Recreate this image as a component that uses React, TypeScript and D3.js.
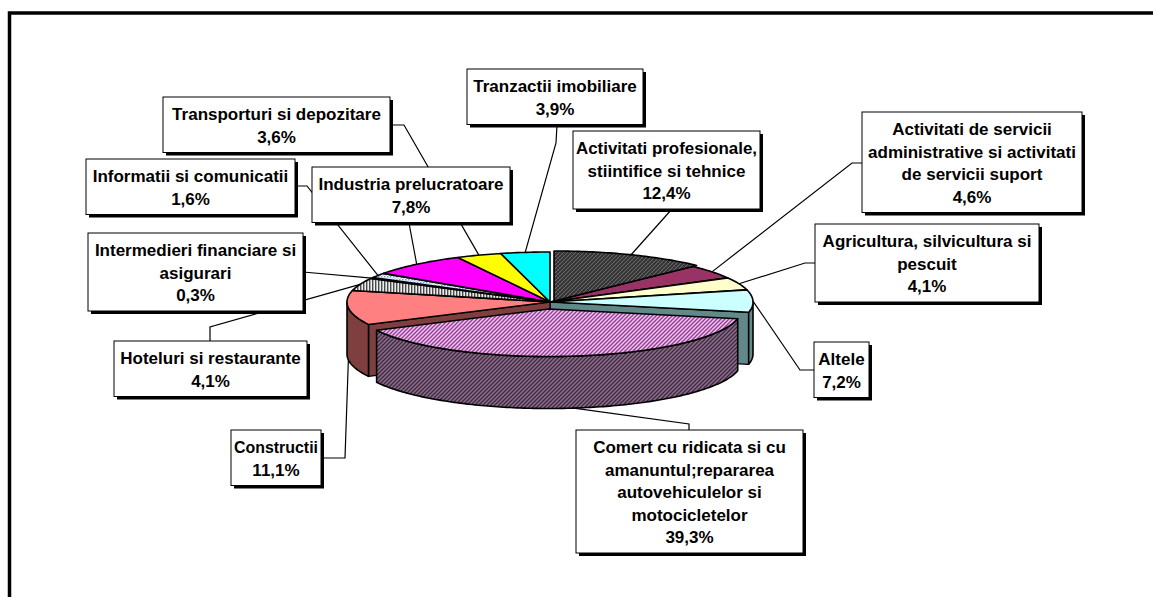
import React from 'react';
import * as d3 from 'd3';

// ---------- data ----------
const categories = [
  'Activitati profesionale, stiintifice si tehnice',
  'Activitati de servicii administrative si activitati de servicii suport',
  'Agricultura, silvicultura si pescuit',
  'Altele',
  'Comert cu ridicata si cu amanuntul;repararea autovehiculelor si motocicletelor',
  'Constructii',
  'Hoteluri si restaurante',
  'Intermedieri financiare si asigurari',
  'Informatii si comunicatii',
  'Industria prelucratoare',
  'Transporturi si depozitare',
  'Tranzactii imobiliare',
];
const values = [12.4, 4.6, 4.1, 7.2, 39.3, 11.1, 4.1, 0.3, 1.6, 7.8, 3.6, 3.9];
const labelLines = [
  ['Activitati profesionale,', 'stiintifice si tehnice'],
  ['Activitati de servicii', 'administrative si activitati', 'de servicii suport'],
  ['Agricultura, silvicultura si', 'pescuit'],
  ['Altele'],
  ['Comert cu ridicata si cu', 'amanuntul;repararea', 'autovehiculelor si', 'motocicletelor'],
  ['Constructii'],
  ['Hoteluri si restaurante'],
  ['Intermedieri financiare si', 'asigurari'],
  ['Informatii si comunicatii'],
  ['Industria prelucratoare'],
  ['Transporturi si depozitare'],
  ['Tranzactii imobiliare'],
];

// ---------- styles / layout ----------
const W = 1153, H = 597;
const CX = 550, CY = 302, RX = 203, RY = 50, DEPTH = 52;

const sliceStyle = [
  { top: 'url(#pDark)', side: '#2a2a2a' },
  { top: '#993366', side: '#4d1a33' },
  { top: '#FFFFCC', side: '#808066' },
  { top: '#CCFFFF', side: '#628989' },
  { top: 'url(#pComTop)', side: 'url(#pComSide)' },
  { top: '#FF8080', side: '#7f3f3f' },
  { top: 'url(#pHot)', side: '#555555' },
  { top: 'url(#pInf2)', side: '#666677' },
  { top: 'url(#pInf)', side: '#666677' },
  { top: '#FF00FF', side: '#800080' },
  { top: '#FFFF00', side: '#808000' },
  { top: '#00FFFF', side: '#008080' },
];
const sliceOffset = [
  { dx: 4, dy: -1, s: 1 },
  { dx: 0, dy: 0, s: 1 },
  { dx: 0, dy: 0, s: 1 },
  { dx: 0, dy: 0, s: 1 },
  { dx: -1, dy: 7, s: 0.95 },
  { dx: 0, dy: 0, s: 1 },
  { dx: 0, dy: 0, s: 1 },
  { dx: 0, dy: 0, s: 1 },
  { dx: 0, dy: 0, s: 1 },
  { dx: 0, dy: 0, s: 1 },
  { dx: 0, dy: 0, s: 1 },
  { dx: 0, dy: 0, s: 1 },
];
const boxLayout: { x: number; y: number; w: number; leader: [number, number][] }[] = [
  { x: 573, y: 131, w: 187, leader: [[672, 209]] },
  { x: 862, y: 112, w: 220, leader: [[862, 163], [852, 163]] },
  { x: 815, y: 224, w: 224, leader: [[815, 263], [805, 263]] },
  { x: 814, y: 342, w: 55, leader: [[814, 370], [800, 370]] },
  { x: 576, y: 430, w: 227, leader: [[689, 430], [689, 424]] },
  { x: 231, y: 430, w: 90, leader: [[321, 458], [345, 458]] },
  { x: 114, y: 341, w: 193, leader: [[210, 341], [210, 327]] },
  { x: 88, y: 233, w: 215, leader: [[303, 272]] },
  { x: 86, y: 159, w: 209, leader: [[295, 186], [307, 186]] },
  { x: 312, y: 167, w: 198, leader: [[409, 223]] },
  { x: 163, y: 97, w: 227, leader: [[390, 125], [404, 125]] },
  { x: 467, y: 69, w: 176, leader: [[557, 125], [556, 143]] },
];
const FONT = 17, LINE_H = 22.5, FIRST_BASE = 23, PAD_BOTTOM = 10, TEXT_PAD = 3;
const FONT_FAMILY = "'Liberation Sans', Arial, sans-serif";

type Off = { dx: number; dy: number; s: number };
function P(a: number, k: number, o: Off, z = 0): [number, number] {
  return [CX + o.dx + RX * o.s * k * Math.sin(a), CY + o.dy - RY * o.s * k * Math.cos(a) + z];
}
function arcPts(a0: number, a1: number, o: Off, z: number): [number, number][] {
  const n = Math.max(2, Math.ceil(Math.abs(a1 - a0) / (Math.PI / 180)));
  return d3.range(n + 1).map((i) => P(a0 + ((a1 - a0) * i) / n, 1, o, z));
}
const lineGen = d3.line();
const fmt = (v: number) => v.toFixed(1).replace('.', ',') + '%';

let measureCtx: CanvasRenderingContext2D | null = null;
function textWidth(t: string): number {
  if (typeof document === 'undefined') return 0;
  if (!measureCtx) measureCtx = document.createElement('canvas').getContext('2d');
  if (!measureCtx) return 0;
  measureCtx.font = `bold ${FONT}px ${FONT_FAMILY}`;
  return measureCtx.measureText(t).width;
}

export default function App() {
  const arcs = d3.pie<number>().sort(null).value((d) => d)(values);
  const exploded = sliceOffset.map((o) => Math.hypot(o.dx, o.dy) > 3);
  const n = values.length;

  const faces: any[] = [];
  const walls: any[] = [];
  const wallsExp: any[] = [];
  const tops: any[] = [];
  const topsExp: any[] = [];
  const anchors: [number, number][] = [];

  arcs.forEach((arc, i) => {
    const o = sliceOffset[i];
    const st = sliceStyle[i];
    const a0 = arc.startAngle, a1 = arc.endAngle;
    const prev = (i - 1 + n) % n, next = (i + 1) % n;
    const face = (a: number, key: string) => (
      <path key={key}
        d={lineGen([P(a, 0, o), P(a, 1, o), P(a, 1, o, DEPTH), P(a, 0, o, DEPTH)])! + 'Z'}
        fill={st.side} stroke="#000" strokeWidth={1.2} strokeLinejoin="round" />
    );
    if (Math.sin(a0) < -0.01 && exploded[prev] && !exploded[i]) faces.push(face(a0, 'fs' + i));
    if (Math.sin(a1) > 0.01 && exploded[next] && !exploded[i]) faces.push(face(a1, 'fe' + i));

    const b0 = Math.max(a0, Math.PI / 2), b1 = Math.min(a1, (3 * Math.PI) / 2);
    if (b1 > b0) {
      const pts = arcPts(b0, b1, o, 0).concat(arcPts(b1, b0, o, DEPTH));
      const el = (
        <path key={'w' + i} d={lineGen(pts)! + 'Z'} fill={st.side} stroke="#000"
          strokeWidth={1.6} strokeLinejoin="round" />
      );
      (exploded[i] ? wallsExp : walls).push(el);
    }
    const topPts = [P(0, 0, o)].concat(arcPts(a0, a1, o, 0));
    const t = (
      <path key={'t' + i} d={lineGen(topPts)! + 'Z'} fill={st.top} stroke="#000"
        strokeWidth={1.6} strokeLinejoin="round" />
    );
    (exploded[i] ? topsExp : tops).push(t);

    const mid = (a0 + a1) / 2;
    anchors.push(Math.cos(mid) < 0 ? P(mid, 1, o, DEPTH) : P(mid, 1, o, 0));
  });

  return (
    <svg width={W} height={H} style={{ position: 'absolute', left: 0, top: 0, background: '#fff' }}
      fontFamily={FONT_FAMILY}>
      <defs>
        <pattern id="pDark" width="4" height="4" patternUnits="userSpaceOnUse">
          <rect width="4" height="4" fill="#333333" />
          <path d="M0,4 L4,0 M-1,1 L1,-1 M3,5 L5,3" stroke="#707070" strokeWidth="0.9" />
          <path d="M0,0 L4,4" stroke="#4a4a4a" strokeWidth="0.7" />
        </pattern>
        <pattern id="pComTop" width="4" height="4" patternUnits="userSpaceOnUse">
          <rect width="4" height="4" fill="#eec4ee" />
          <path d="M0,4 L4,0 M-1,1 L1,-1 M3,5 L5,3" stroke="#923c92" strokeWidth="1.3" />
        </pattern>
        <pattern id="pComSide" width="4" height="4" patternUnits="userSpaceOnUse">
          <rect width="4" height="4" fill="#8c6c8c" />
          <path d="M0,4 L4,0 M-1,1 L1,-1 M3,5 L5,3" stroke="#3d2a3d" strokeWidth="1.3" />
        </pattern>
        <pattern id="pHot" width="3" height="3" patternUnits="userSpaceOnUse">
          <rect width="3" height="3" fill="#ececec" />
          <rect width="1.4" height="3" fill="#4a4a4a" />
        </pattern>
        <pattern id="pInf" width="3" height="3" patternUnits="userSpaceOnUse">
          <rect width="3" height="3" fill="#ffffff" />
          <rect width="1.5" height="1.5" fill="#6f9cf0" />
          <rect x="1.5" y="1.5" width="1.5" height="1.5" fill="#b8d0ff" />
        </pattern>
        <pattern id="pInf2" width="3" height="3" patternUnits="userSpaceOnUse">
          <rect width="3" height="3" fill="#ffffff" />
          <rect width="1.5" height="1.5" fill="#8899bb" />
        </pattern>
      </defs>

      {/* outer frame */}
      <rect x={9.5} y={13} width={1200} height={700} fill="none" stroke="#000" strokeWidth={3.5} />

      {/* pie */}
      <g>
        {faces}
        {walls}
        {wallsExp}
        {tops}
        {topsExp}
      </g>

      {/* leader lines */}
      <g fill="none" stroke="#000" strokeWidth={1.2}>
        {boxLayout.map((b, i) => (
          <path key={'l' + i} d={lineGen([...b.leader, anchors[i]])!} />
        ))}
      </g>

      {/* label boxes */}
      {boxLayout.map((b, i) => {
        const lines = [...labelLines[i], fmt(values[i])];
        const h = FIRST_BASE + (lines.length - 1) * LINE_H + PAD_BOTTOM;
        const maxW = b.w - 2 * TEXT_PAD;
        return (
          <g key={'b' + i}>
            <title>{categories[i]}</title>
            <rect x={b.x + 3} y={b.y + 3} width={b.w} height={h} fill="#000" />
            <rect x={b.x} y={b.y} width={b.w} height={h} fill="#fff" stroke="#000" strokeWidth={1} />
            {lines.map((t, j) => {
              const tw = textWidth(t);
              const fit = tw > maxW ? { textLength: maxW, lengthAdjust: 'spacingAndGlyphs' } : {};
              return (
                <text key={j} x={b.x + b.w / 2} y={b.y + FIRST_BASE + j * LINE_H} textAnchor="middle"
                  fontSize={FONT} fontWeight="bold" fill="#000" {...fit}>
                  {t}
                </text>
              );
            })}
          </g>
        );
      })}
    </svg>
  );
}
